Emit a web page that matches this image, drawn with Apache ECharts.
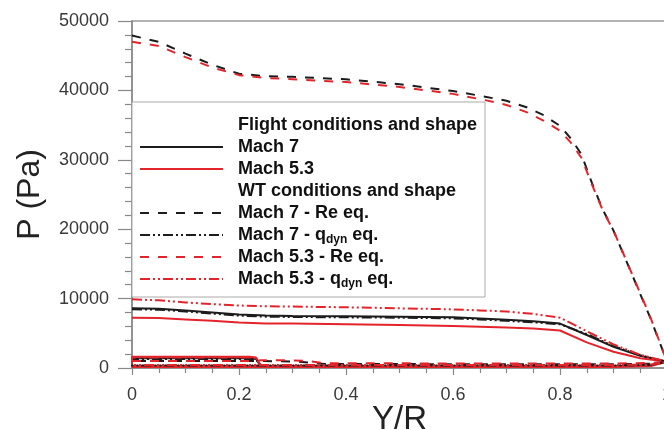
<!DOCTYPE html>
<html>
<head>
<meta charset="utf-8">
<script src="https://cdn.jsdelivr.net/npm/echarts@6/dist/echarts.min.js"></script>
<style>
html, body { margin: 0; padding: 0; background: #fff; }
#chart { width: 664px; height: 430px; }
</style>
</head>
<body>
<div id="chart"></div>
<script>
// [Y/R, P] pairs, windward side first, then back along the leeward side
var mach7Flight = [[0,8600],[0.05,8550],[0.1,8300],[0.15,8000],[0.2,7700],[0.25,7550],[0.3,7500],[0.4,7450],[0.5,7400],[0.6,7300],[0.65,7150],[0.7,6950],[0.75,6750],[0.8,6400],[0.85,4750],[0.9,3050],[0.95,1750],[1,900],
  [0.97,400],[0.9,250],[0.6,250],[0.3,250],[0.24,260],[0,260],[0,1400],[0.22,1400],[0.232,1300],[0.238,600],[0.242,260]];
var mach53Flight = [[0,7250],[0.05,7200],[0.1,7000],[0.15,6800],[0.2,6550],[0.25,6400],[0.3,6400],[0.4,6300],[0.5,6200],[0.6,6050],[0.65,5950],[0.7,5850],[0.75,5700],[0.8,5400],[0.85,3700],[0.9,2350],[0.95,1400],[1,900],
  [0.97,300],[0.9,150],[0.6,150],[0.3,150],[0,150],[0,1630],[0.22,1620],[0.232,1500],[0.238,700],[0.242,150]];
var mach7Re = [[0,47900],[0.05,47000],[0.1,45300],[0.15,43700],[0.2,42400],[0.25,42050],[0.3,41950],[0.4,41600],[0.5,40900],[0.6,39900],[0.66,39100],[0.7,38500],[0.74,37500],[0.77,36400],[0.8,34900],[0.82,33100],[0.84,30800],[0.86,26600],[0.88,22800],[0.9,19800],[0.935,13400],[0.97,7000],[1,900],
  [0.97,620],[0.9,550],[0.7,550],[0.5,560],[0.36,570],[0.33,800],[0.3,950],[0.24,1000],[0,1000]];
var mach7Qdyn = [[0,8450],[0.05,8400],[0.1,8150],[0.15,7850],[0.2,7550],[0.25,7400],[0.3,7350],[0.4,7300],[0.5,7250],[0.6,7150],[0.65,7000],[0.7,6800],[0.75,6600],[0.8,6300],[0.85,4900],[0.9,3150],[0.95,1850],[1,900],
  [0.97,450],[0.9,350],[0.3,350],[0,350],[0,1300],[0.22,1300],[0.232,1200],[0.238,600],[0.242,350]];
var mach53Re = [[0,47000],[0.05,46400],[0.1,44800],[0.15,43300],[0.2,42200],[0.25,41800],[0.3,41600],[0.4,41200],[0.5,40500],[0.6,39500],[0.66,38600],[0.7,37900],[0.74,36800],[0.77,35600],[0.8,34200],[0.82,32500],[0.84,30300],[0.86,26400],[0.88,22700],[0.9,19800],[0.935,13500],[0.97,7100],[1,900],
  [0.97,720],[0.9,650],[0.7,650],[0.5,670],[0.36,680],[0.33,1000],[0.3,1100],[0.24,1120],[0.235,1000],[0,1000]];
var mach53Qdyn = [[0,9900],[0.05,9750],[0.1,9450],[0.15,9200],[0.2,9000],[0.25,8900],[0.3,8850],[0.4,8750],[0.5,8600],[0.6,8450],[0.65,8300],[0.7,8150],[0.75,7800],[0.8,7250],[0.85,5300],[0.9,3400],[0.95,1900],[1,900],
  [0.97,500],[0.9,450],[0.3,450],[0,450],[0,1500],[0.22,1500],[0.232,1400],[0.238,650],[0.242,450]];

var legendNames = ['Flight conditions and shape', 'Mach 7', 'Mach 5.3', 'WT conditions and shape',
  'Mach 7 - Re eq.', 'Mach 7 - q_dyn eq.', 'Mach 5.3 - Re eq.', 'Mach 5.3 - q_dyn eq.'];
var headers = ['Flight conditions and shape', 'WT conditions and shape'];

var BLACK = '#1c1c1c', RED = '#e3242b';
var FONT = '"Liberation Sans", Arial, Helvetica, sans-serif';
var DASH = [9, 9], DASHDOT = [10, 3, 2, 3, 2, 3];

var chart = echarts.init(document.getElementById('chart'));

function curve(name, data, color, type) {
  return {
    name: name, type: 'line', data: data, symbol: 'none',
    lineStyle: { color: color, width: 2, type: type },
    itemStyle: { color: color }
  };
}

var option = {
  animation: false,
  backgroundColor: '#fff',
  grid: {
    left: 132, top: 21, right: -3, bottom: 62,
    outerBoundsMode: 'none', containLabel: false,
    show: true, borderColor: '#999', borderWidth: 1.5
  },
  legend: {
    orient: 'vertical', left: 132, top: 102,
    padding: [12, 8, 7, 7],
    backgroundColor: '#fff', borderColor: '#aaa', borderWidth: 1,
    itemWidth: 83, itemHeight: 14, itemGap: 0,
    selectedMode: false,
    itemStyle: { opacity: 0 },
    textStyle: {
      fontSize: 18, fontWeight: 'bold', color: '#111', fontFamily: FONT, lineHeight: 22,
      rich: {
        gap: { width: 10 },
        sub: { fontSize: 12, fontWeight: 'bold', color: '#111', fontFamily: FONT, padding: [9, 0, 0, 0] }
      }
    },
    formatter: function (name) {
      return '{gap| }' + name.replace('q_dyn', 'q{sub|dyn}');
    },
    data: legendNames.map(function (n) {
      if (headers.indexOf(n) >= 0) {
        return { name: n, icon: 'rect', itemStyle: { opacity: 0 }, lineStyle: { opacity: 0 } };
      }
      return { name: n };
    })
  },
  xAxis: {
    type: 'value', min: 0, max: 1, interval: 0.2,
    name: 'Y/R', nameLocation: 'middle', nameGap: 35, nameMoveOverlap: false,
    nameTextStyle: { fontSize: 33, color: '#222', fontFamily: FONT },
    axisLine: { lineStyle: { color: '#888', width: 1.5 } },
    axisTick: { length: 7, lineStyle: { color: '#888', width: 1.2 } },
    minorTick: { show: true, splitNumber: 4, length: 5, lineStyle: { color: '#888', width: 1.2 } },
    axisLabel: { fontSize: 18, color: '#3a3a3a', fontFamily: FONT, margin: 18 },
    splitLine: { show: false }
  },
  yAxis: {
    type: 'value', min: 0, max: 50000, interval: 10000,
    name: 'P (Pa)', nameLocation: 'middle', nameGap: 86, nameMoveOverlap: false,
    nameTextStyle: { fontSize: 32, color: '#222', fontFamily: FONT },
    axisLine: { show: true, lineStyle: { color: '#888', width: 1.5 } },
    axisTick: { show: true, length: 14, lineStyle: { color: '#888', width: 1.2 } },
    minorTick: { show: true, splitNumber: 5, length: 7, lineStyle: { color: '#888', width: 1.2 } },
    axisLabel: {
      fontSize: 18, color: '#3a3a3a', fontFamily: FONT, margin: 23,
      formatter: function (v) { return String(v); }
    },
    splitLine: { show: false }
  },
  series: [
    curve('Flight conditions and shape', [], 'transparent', 'solid'),
    curve('WT conditions and shape', [], 'transparent', 'solid'),
    curve('Mach 7', mach7Flight, BLACK, 'solid'),
    curve('Mach 5.3', mach53Flight, RED, 'solid'),
    curve('Mach 7 - Re eq.', mach7Re, BLACK, DASH),
    curve('Mach 5.3 - Re eq.', mach53Re, RED, DASH),
    curve('Mach 7 - q_dyn eq.', mach7Qdyn, BLACK, DASHDOT),
    curve('Mach 5.3 - q_dyn eq.', mach53Qdyn, RED, DASHDOT)
  ]
};

chart.setOption(option);
</script>
</body>
</html>
